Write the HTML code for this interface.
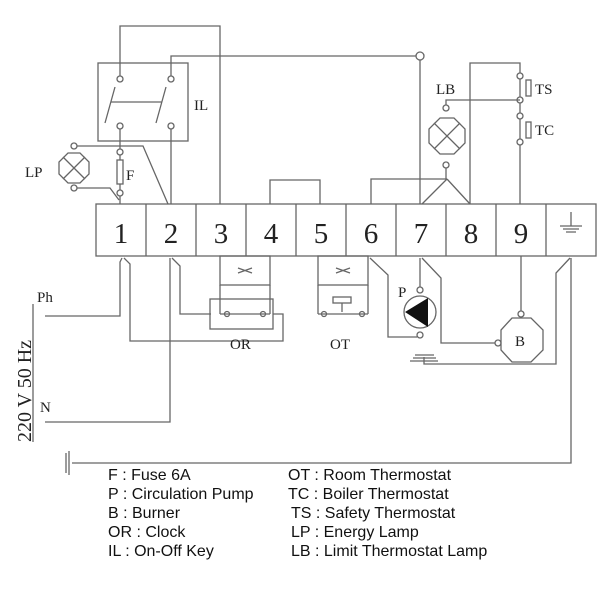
<!DOCTYPE html>
<html><head><style>
body{margin:0;background:#fff}
svg{display:block}
.s{font-family:"Liberation Serif",serif;fill:#222}
.l{font-family:"Liberation Sans",sans-serif;font-size:16px;fill:#111}
</style></head><body>
<svg width="607" height="598" viewBox="0 0 607 598" xmlns="http://www.w3.org/2000/svg">
<g fill="none" stroke="#666" stroke-width="1.3">
<rect x="96" y="204" width="500" height="52"/>
<path d="M146 204V256M196 204V256M246 204V256M296 204V256M346 204V256M396 204V256M446 204V256M496 204V256M546 204V256"/>
<rect x="98" y="63" width="90" height="78"/>
<circle cx="120" cy="79" r="3"/><circle cx="171" cy="79" r="3"/>
<circle cx="120" cy="126" r="3"/><circle cx="171" cy="126" r="3"/>
<path d="M105 123L115 87M156 123L166 87M111 102H162"/>
<path d="M120 76V26H220V204"/>
<path d="M171 76V56H416"/>
<circle cx="420" cy="56" r="4"/>
<path d="M420 60V204"/>
<path d="M120 129V149"/>
<circle cx="120" cy="152" r="3"/><circle cx="120" cy="193" r="3"/>
<rect x="117" y="160" width="6" height="24"/>
<path d="M120 155V160M120 184V190M120 196V204"/>
<path d="M171 129V204"/>
<polygon points="68,153 80,153 89,162 89,174 80,183 68,183 59,174 59,162"/>
<path d="M63 157L85 179M85 157L63 179"/>
<circle cx="74" cy="146" r="3"/><circle cx="74" cy="188" r="3"/>
<path d="M77 146H143L168 204M77 188H110L119 200"/>
<path d="M270 204V180H320V204"/>
<path d="M371 204V179H447M447 179L422 204M447 179L470 204"/>
<polygon points="440,118 454,118 465,129 465,143 454,154 440,154 429,143 429,129"/>
<path d="M434 123L460 149M460 123L434 149"/>
<circle cx="446" cy="108" r="3"/><circle cx="446" cy="165" r="3"/>
<path d="M446 168V179M446 105V100H520"/>
<path d="M470 204V63H520V73"/>
<circle cx="520" cy="76" r="3"/><circle cx="520" cy="100" r="3"/>
<rect x="526" y="80" width="5" height="16"/>
<circle cx="520" cy="116" r="3"/><circle cx="520" cy="142" r="3"/>
<rect x="526" y="122" width="5" height="16"/>
<path d="M520 79V97M520 103V113M520 119V139M520 145V204"/>
<path d="M571 212V226M560 226H582M563 229H579M566 232H576"/>
<path d="M122 258L120 262V316H45"/>
<path d="M124 258L130 264V341H283V314H273"/>
<path d="M170 258V422H45"/>
<path d="M172 258L180 266V314H211"/>
<rect x="220" y="256" width="50" height="29"/>
<path d="M220 285V314M270 285V314M220 314H270"/>
<circle cx="227" cy="314" r="2.5"/><circle cx="263" cy="314" r="2.5"/>
<rect x="210" y="299" width="63" height="30"/>
<path d="M238 268L252 273M238 273L252 268"/>
<rect x="318" y="256" width="50" height="29"/>
<path d="M318 285V314M368 285V314M318 314H368"/>
<circle cx="324" cy="314" r="2.5"/><circle cx="362" cy="314" r="2.5"/>
<rect x="333" y="297" width="18" height="6"/>
<path d="M336 268L350 273M336 273L350 268M342 303V312"/>
<path d="M370 258L388 275V337H417"/>
<path d="M420 258V287"/>
<circle cx="420" cy="290" r="3"/><circle cx="420" cy="335" r="3"/>
<circle cx="420" cy="312" r="16"/>
<path d="M422 258L441 278V343H495"/>
<circle cx="498" cy="343" r="3"/>
<path d="M521 256V311"/>
<circle cx="521" cy="314" r="3"/>
<polygon points="512,318 531,318 543,330 543,350 531,362 512,362 501,350 501,330"/>
<path d="M570 258L556 273V364H424V357"/>
<path d="M571 258V463H72"/>
<path d="M415 355H434M413 358H436M410 361H438"/>
<path d="M69 451V475M66 453V473"/>
<path d="M33 304V442"/>
</g>
<polygon points="405,312 428,298 428,327" fill="#111"/>
<g class="s" font-size="29">
<text x="121" y="243" text-anchor="middle">1</text>
<text x="171" y="243" text-anchor="middle">2</text>
<text x="221" y="243" text-anchor="middle">3</text>
<text x="271" y="243" text-anchor="middle">4</text>
<text x="321" y="243" text-anchor="middle">5</text>
<text x="371" y="243" text-anchor="middle">6</text>
<text x="421" y="243" text-anchor="middle">7</text>
<text x="471" y="243" text-anchor="middle">8</text>
<text x="521" y="243" text-anchor="middle">9</text>
</g>
<g class="s" font-size="15">
<text x="194" y="110">IL</text>
<text x="25" y="177">LP</text>
<text x="126" y="180">F</text>
<text x="436" y="94">LB</text>
<text x="535" y="94">TS</text>
<text x="535" y="135">TC</text>
<text x="230" y="349">OR</text>
<text x="330" y="349">OT</text>
<text x="398" y="297">P</text>
<text x="515" y="346">B</text>
<text x="37" y="302">Ph</text>
<text x="40" y="412">N</text>
<text transform="translate(31,442) rotate(-90)" font-size="20">220 V 50 Hz</text>
</g>
<g class="l">
<text x="108" y="480">F  : Fuse 6A</text>
<text x="108" y="499">P  : Circulation Pump</text>
<text x="108" y="518">B  : Burner</text>
<text x="108" y="537">OR : Clock</text>
<text x="108" y="556">IL : On-Off Key</text>
<text x="288" y="480">OT : Room Thermostat</text>
<text x="288" y="499">TC : Boiler Thermostat</text>
<text x="291" y="518">TS : Safety Thermostat</text>
<text x="291" y="537">LP : Energy Lamp</text>
<text x="291" y="556">LB : Limit Thermostat Lamp</text>
</g>
</svg>
</body></html>
